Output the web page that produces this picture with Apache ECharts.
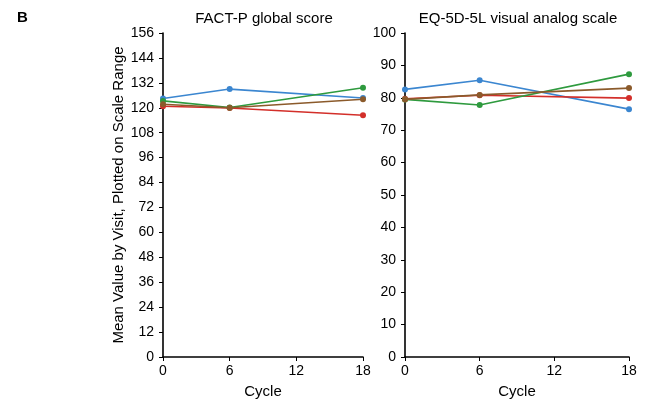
<!DOCTYPE html>
<html><head><meta charset="utf-8">
<script src="https://cdn.jsdelivr.net/npm/echarts@6/dist/echarts.min.js"></script>
<style>html,body{margin:0;padding:0;background:#fff}#c{width:645px;height:403px}</style>
</head><body><div id="c"></div>
<script>
const cycles = [0, 6, 18];
const factBlue  = [124.5, 129.0, 124.7];
const factGreen = [123.3, 120.1, 129.6];
const factRed   = [120.7, 119.9, 116.4];
const factBrown = [121.7, 120.0, 124.1];
const eqBlue  = [82.6, 85.4, 76.5];
const eqGreen = [79.5, 77.8, 87.3];
const eqRed   = [79.7, 80.8, 79.9];
const eqBrown = [79.5, 80.9, 83.0];
const colors = {blue:'#3b86d0', green:'#2e9a3e', red:'#d32f2a', brown:'#8b5a2b'};

const font = 'Liberation Sans, Arial, sans-serif';
function pts(v){ return cycles.map((c,i)=>[c, v[i]]); }
function ser(v, col, idx){
  return {type:'line', xAxisIndex:idx, yAxisIndex:idx, data:pts(v), symbol:'circle', symbolSize:6,
    lineStyle:{color:col, width:1.6}, itemStyle:{color:col}, animation:false};
}
function xAx(idx){
  return {type:'value', gridIndex:idx, min:0, max:18, interval:6,
    name:'Cycle', nameLocation:'middle', nameGap:27, nameTextStyle:{fontFamily:font, fontSize:15, color:'#000'},
    axisLine:{show:true, lineStyle:{color:'#000', width:1.6}}, axisTick:{show:true, length:4, lineStyle:{color:'#000'}},
    axisLabel:{fontFamily:font, fontSize:14, color:'#000', margin:7}, splitLine:{show:false}};
}
function yAx(idx, max, interval, name){
  return {type:'value', gridIndex:idx, min:0, max:max, interval:interval,
    name:name, nameLocation:'middle', nameGap:36, nameTextStyle:{fontFamily:font, fontSize:15, color:'#000'},
    axisLine:{show:true, lineStyle:{color:'#000', width:1.6}}, axisTick:{show:true, length:4, lineStyle:{color:'#000'}},
    axisLabel:{fontFamily:font, fontSize:14, color:'#000', margin:9}, splitLine:{show:false}};
}
const chart = echarts.init(document.getElementById('c'), null, {renderer:'canvas'});
chart.setOption({
  backgroundColor:'#fff',
  animation:false,
  title:[
    {text:'B', left:12, top:5, textStyle:{fontFamily:font, fontSize:15, fontWeight:'bold', color:'#000'}},
    {text:'FACT-P global score', left:259, top:6, textAlign:'center', textStyle:{fontFamily:font, fontSize:15, fontWeight:'normal', color:'#000'}},
    {text:'EQ-5D-5L visual analog scale', left:513, top:6, textAlign:'center', textStyle:{fontFamily:font, fontSize:15, fontWeight:'normal', color:'#000'}}
  ],
  grid:[
    {left:163, right:282, top:33, bottom:46, containLabel:false, outerBoundsMode:'none'},
    {left:405, right:16, top:33, bottom:46, containLabel:false, outerBoundsMode:'none'}
  ],
  xAxis:[xAx(0), xAx(1)],
  yAxis:[yAx(0,156,12,'Mean Value by Visit, Plotted on Scale Range'), yAx(1,100,10,'')],
  series:[
    ser(factBlue, colors.blue, 0), ser(factRed, colors.red, 0), ser(factGreen, colors.green, 0), ser(factBrown, colors.brown, 0),
    ser(eqBlue, colors.blue, 1), ser(eqRed, colors.red, 1), ser(eqGreen, colors.green, 1), ser(eqBrown, colors.brown, 1)
  ]
});
</script></body></html>
